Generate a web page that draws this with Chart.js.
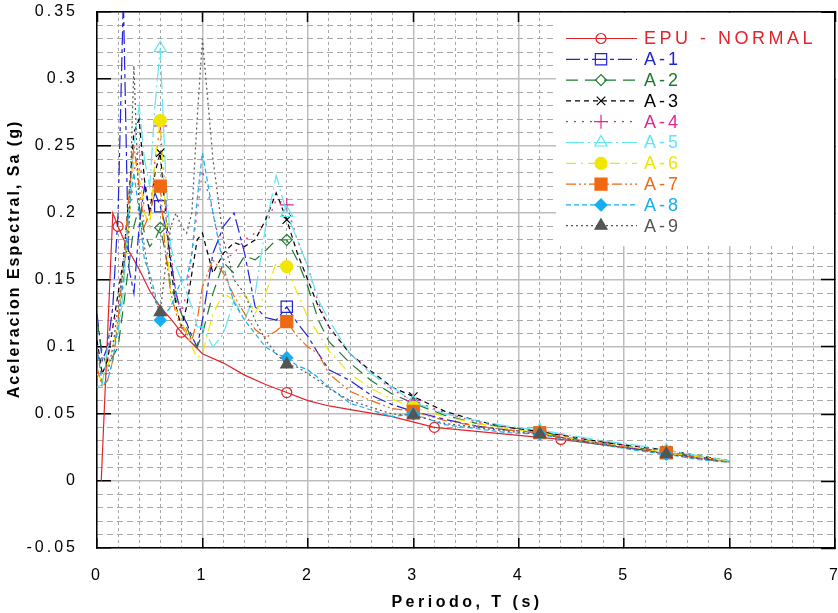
<!DOCTYPE html>
<html lang="es">
<head>
<meta charset="utf-8">
<title>Aceleracion Espectral</title>
<script src="https://cdn.jsdelivr.net/npm/chart.js@4/dist/chart.umd.min.js"></script>
<style>
  html, body { margin: 0; padding: 0; background: #fff; }
  #lienzo { display: block; }
</style>
</head>
<body>
<canvas id="lienzo" width="838" height="613"></canvas>
<script>
// Espectros de respuesta (Sa vs T): espectro EPU normal y registros A-1 ... A-9

// --- EPU - NORMAL ---
const periodosEPU = [0.04, 0.15, 0.2, 0.3, 0.4, 0.5, 0.6, 0.7, 0.8, 0.9, 1.0, 1.2, 1.4, 1.6, 1.8,
  2.0, 2.2, 2.5, 2.8, 3.2, 3.6, 4.0, 4.4, 4.8, 5.4, 6.0];
const saEPU = [0, 0.2, 0.19, 0.172, 0.158, 0.142, 0.13, 0.121, 0.111, 0.103, 0.095, 0.088, 0.079, 0.072, 0.066,
  0.06, 0.056, 0.052, 0.048, 0.04, 0.037, 0.034, 0.031, 0.027, 0.021, 0.015];
const marcasEPU = [0.2, 0.8, 1.8, 3.2, 4.4, 5.4];

// --- registros A-1 ... A-9 (mismos periodos) ---
const periodos = [0, 0.05, 0.1, 0.15, 0.2, 0.25, 0.3, 0.35, 0.4, 0.45, 0.5, 0.55, 0.6, 0.65, 0.7, 0.75,
  0.8, 0.85, 0.9, 0.95, 1.0, 1.1, 1.2, 1.3, 1.4, 1.5, 1.6, 1.7, 1.8, 1.9, 2.0, 2.1, 2.2, 2.4, 2.6, 2.8,
  3.0, 3.3, 3.6, 3.9, 4.2, 4.5, 4.8, 5.1, 5.4, 5.7, 6.0];
const saA1 = [0.125, 0.09, 0.1, 0.13, 0.2, 0.36, 0.16, 0.14, 0.19, 0.22, 0.2, 0.215, 0.205, 0.19, 0.165, 0.14,
  0.125, 0.118, 0.108, 0.1, 0.12, 0.17, 0.19, 0.2, 0.17, 0.13, 0.122, 0.12, 0.13, 0.118, 0.108, 0.095, 0.083, 0.075, 0.064, 0.057,
  0.052, 0.046, 0.041, 0.038, 0.036, 0.031, 0.028, 0.024, 0.021, 0.017, 0.014];
const saA2 = [0.12, 0.095, 0.085, 0.093, 0.1, 0.13, 0.16, 0.19, 0.205, 0.185, 0.175, 0.18, 0.189, 0.17, 0.145, 0.135,
  0.125, 0.115, 0.105, 0.1, 0.11, 0.14, 0.163, 0.155, 0.168, 0.165, 0.172, 0.18, 0.18, 0.165, 0.145, 0.12, 0.104, 0.088, 0.075, 0.065,
  0.058, 0.049, 0.043, 0.04, 0.037, 0.032, 0.029, 0.025, 0.022, 0.018, 0.015];
const saA3 = [0.105, 0.08, 0.09, 0.115, 0.14, 0.165, 0.21, 0.26, 0.27, 0.225, 0.2, 0.23, 0.245, 0.2, 0.16, 0.13,
  0.115, 0.13, 0.155, 0.18, 0.185, 0.155, 0.17, 0.178, 0.175, 0.18, 0.195, 0.215, 0.195, 0.17, 0.15, 0.13, 0.115, 0.095, 0.082, 0.07,
  0.063, 0.052, 0.045, 0.04, 0.037, 0.033, 0.029, 0.026, 0.023, 0.019, 0.015];
const saA4 = [0.1, 0.075, 0.09, 0.115, 0.13, 0.16, 0.19, 0.23, 0.25, 0.2, 0.19, 0.24, 0.265, 0.21, 0.17, 0.14,
  0.125, 0.14, 0.17, 0.2, 0.232, 0.2, 0.165, 0.17, 0.18, 0.185, 0.19, 0.21, 0.206, 0.18, 0.16, 0.133, 0.115, 0.095, 0.081, 0.068,
  0.06, 0.051, 0.044, 0.04, 0.037, 0.033, 0.029, 0.026, 0.022, 0.018, 0.015];
const saA5 = [0.07, 0.072, 0.1, 0.105, 0.11, 0.14, 0.2, 0.25, 0.28, 0.24, 0.22, 0.28, 0.323, 0.23, 0.175, 0.16,
  0.15, 0.14, 0.13, 0.115, 0.115, 0.1, 0.11, 0.135, 0.12, 0.14, 0.19, 0.228, 0.2, 0.18, 0.16, 0.135, 0.12, 0.095, 0.08, 0.07,
  0.059, 0.05, 0.045, 0.041, 0.038, 0.034, 0.03, 0.027, 0.023, 0.019, 0.015];
const saA6 = [0.08, 0.075, 0.085, 0.1, 0.12, 0.15, 0.19, 0.24, 0.23, 0.2, 0.19, 0.24, 0.269, 0.2, 0.135, 0.128,
  0.12, 0.11, 0.1, 0.092, 0.095, 0.125, 0.14, 0.135, 0.14, 0.125, 0.14, 0.163, 0.16, 0.14, 0.122, 0.11, 0.097, 0.08, 0.069, 0.061,
  0.055, 0.048, 0.043, 0.039, 0.036, 0.032, 0.028, 0.025, 0.021, 0.018, 0.015];
const saA7 = [0.085, 0.07, 0.075, 0.09, 0.12, 0.16, 0.21, 0.25, 0.22, 0.19, 0.2, 0.215, 0.22, 0.17, 0.14, 0.125,
  0.115, 0.11, 0.105, 0.12, 0.145, 0.165, 0.155, 0.138, 0.125, 0.113, 0.107, 0.112, 0.119, 0.108, 0.1, 0.095, 0.08, 0.067, 0.06, 0.054,
  0.052, 0.045, 0.041, 0.038, 0.036, 0.031, 0.028, 0.024, 0.021, 0.017, 0.014];
const saA8 = [0.1, 0.072, 0.075, 0.09, 0.115, 0.15, 0.2, 0.23, 0.2, 0.165, 0.155, 0.14, 0.12, 0.125, 0.13, 0.14,
  0.15, 0.15, 0.17, 0.21, 0.245, 0.2, 0.16, 0.133, 0.12, 0.11, 0.1, 0.095, 0.092, 0.086, 0.083, 0.077, 0.07, 0.058, 0.053, 0.048,
  0.05, 0.042, 0.039, 0.036, 0.035, 0.03, 0.027, 0.023, 0.02, 0.016, 0.014];
const saA9 = [0.1, 0.08, 0.08, 0.1, 0.13, 0.16, 0.18, 0.31, 0.2, 0.175, 0.15, 0.135, 0.126, 0.16, 0.19, 0.2,
  0.19, 0.185, 0.2, 0.27, 0.33, 0.24, 0.18, 0.15, 0.14, 0.12, 0.105, 0.095, 0.087, 0.085, 0.08, 0.075, 0.069, 0.06, 0.055, 0.05,
  0.049, 0.043, 0.04, 0.037, 0.035, 0.031, 0.027, 0.024, 0.02, 0.017, 0.014];
const marcasA = [0.6, 1.8, 3.0, 4.2, 5.4];

const nombres = ['EPU - NORMAL', 'A-1', 'A-2', 'A-3', 'A-4', 'A-5', 'A-6', 'A-7', 'A-8', 'A-9'];
const ticksX = [0, 1, 2, 3, 4, 5, 6, 7];
const ticksY = [-0.05, 0, 0.05, 0.1, 0.15, 0.2, 0.25, 0.3, 0.35];

// estilo de cada serie (color, trazo, marcador)
const estilos = [
  { color: '#e3232b', dash: [], punto: 'circle', radio: 5, lleno: false },
  { color: '#2222d6', dash: [14, 4, 4, 4], punto: 'rect', radio: 8, lleno: false },
  { color: '#1d7a30', dash: [12, 7], punto: 'rectRot', radio: 5.5, lleno: false },
  { color: '#000000', dash: [5, 4], punto: 'crossRot', radio: 6, lleno: false },
  { color: '#e8258f', dash: [2, 6], punto: 'cross', radio: 7, lleno: false },
  { color: '#5fe6f2', dash: [18, 4, 2, 4], punto: 'triangle', radio: 7, lleno: false },
  { color: '#f0e600', dash: [10, 5, 2, 5], punto: 'circle', radio: 6, lleno: true },
  { color: '#f06812', dash: [10, 3, 2, 3, 2, 3], punto: 'rect', radio: 8.5, lleno: true },
  { color: '#16aef0', dash: [5, 3], punto: 'rectRot', radio: 6, lleno: true },
  { color: '#555555', dash: [2, 3], punto: 'triangle', radio: 7, lleno: true },
];

const FUENTE = '"Liberation Sans", Arial, sans-serif';

function puntos(xs, ys) {
  return xs.map((t, i) => ({ x: t, y: ys[i] }));
}

function radioMarca(marcas, radio) {
  return (ctx) => (ctx.raw && marcas.some((m) => Math.abs(m - ctx.raw.x) < 1e-9) ? radio : 0);
}

const valores = [saA1, saA2, saA3, saA4, saA5, saA6, saA7, saA8, saA9];
const conjuntos = [puntos(periodosEPU, saEPU)].concat(valores.map((v) => puntos(periodos, v)));

const datasets = conjuntos.map((data, i) => {
  const e = estilos[i];
  return {
    label: nombres[i],
    data,
    order: nombres.length - i, // A-9 queda encima
    borderColor: e.color,
    borderWidth: 1.2,
    borderDash: e.dash,
    tension: 0,
    pointStyle: e.punto,
    pointRadius: radioMarca(i === 0 ? marcasEPU : marcasA, e.radio),
    pointHoverRadius: 0,
    pointBorderColor: e.color,
    pointBorderWidth: 1.2,
    pointBackgroundColor: e.lleno ? e.color : 'rgba(255,255,255,0)',
  };
});

// rejilla menor: cada 0.2 s y cada 0.01 g (sin las lineas mayores)
const menoresX = [];
for (let k = 1; k < 35; k++) if (k % 5 !== 0) menoresX.push(Math.round(k * 2) / 10);
const menoresY = [];
for (let k = -4; k < 35; k++) if (k % 5 !== 0) menoresY.push(Math.round(k) / 100);

const fijarTicks = (lista) => (scale) => { scale.ticks = lista.map((v) => ({ value: v })); };

// tamaño fijo de cada eje, sin relleno automatico (el area la fija layout.padding)
const medida = (lado, valor) => (s) => {
  s[lado] = valor;
  s.paddingTop = 0; s.paddingBottom = 0; s.paddingLeft = 0; s.paddingRight = 0;
};

function etiquetaY(v) {
  return String(Number(v.toFixed(2)));
}

// leyenda con linea + marcador, titulos de ejes y espaciado de letras
const decoracion = {
  id: 'decoracion',
  beforeDraw(chart) {
    chart.ctx.letterSpacing = '3px';
  },
  beforeDatasetsDraw(chart) {
    chart.ctx.letterSpacing = '0px';
  },
  afterDatasetsDraw(chart) {
    const ctx = chart.ctx;
    const area = chart.chartArea;
    ctx.save();
    ctx.fillStyle = '#fff';
    ctx.fillRect(556, area.top + 1, area.right - 557, 245 - area.top);

    chart.data.datasets.forEach((ds, i) => {
      const y = 38.5 + i * 20.8;
      ctx.save();
      ctx.strokeStyle = ds.borderColor;
      ctx.lineWidth = ds.borderWidth;
      ctx.setLineDash(ds.borderDash);
      ctx.beginPath();
      ctx.moveTo(566, y);
      ctx.lineTo(637, y);
      ctx.stroke();
      ctx.setLineDash([]);
      ctx.fillStyle = ds.pointBackgroundColor;
      ctx.strokeStyle = ds.pointBorderColor;
      ctx.lineWidth = ds.pointBorderWidth;
      const r = estilos[i].radio;
      Chart.helpers.drawPoint(ctx, { pointStyle: ds.pointStyle, radius: r, rotation: 0, borderWidth: ds.pointBorderWidth }, 601, y);
      ctx.restore();

      ctx.fillStyle = ds.borderColor;
      ctx.font = '18px ' + FUENTE;
      ctx.textAlign = 'left';
      ctx.textBaseline = 'middle';
      ctx.letterSpacing = i === 0 ? '3.5px' : '3px';
      ctx.fillText(ds.label, 644, y + 1);
    });

    ctx.fillStyle = '#000';
    ctx.font = 'bold 16px ' + FUENTE;
    ctx.textAlign = 'center';
    ctx.textBaseline = 'middle';
    ctx.letterSpacing = '3.5px';
    ctx.fillText('Periodo, T (s)', 467, 603);
    ctx.translate(15, 259);
    ctx.rotate(-Math.PI / 2);
    ctx.letterSpacing = '2px';
    ctx.fillText('Aceleracion Espectral, Sa (g)', 0, 0);
    ctx.restore();
  },
};

const gris = '#bdbdbd';
const grisMenor = '#a8a8a8';

new Chart(document.getElementById('lienzo'), {
  type: 'line',
  data: { datasets },
  plugins: [decoracion],
  options: {
    responsive: false,
    animation: false,
    events: [],
    layout: { padding: { top: 12, right: 3, left: 0, bottom: 0 } },
    plugins: { legend: { display: false }, tooltip: { enabled: false } },
    scales: {
      x: {
        type: 'linear', position: 'bottom', min: 0, max: 7,
        afterBuildTicks: fijarTicks(ticksX),
        afterFit: medida('height', 65),
        ticks: { color: '#000', padding: 28, font: { family: FUENTE, size: 16 } },
        grid: { color: gris, lineWidth: 1.5, tickLength: -10, tickColor: '#000', tickWidth: 1.5 },
        border: { color: '#000', width: 1.5 },
      },
      xMenor: {
        type: 'linear', position: 'bottom', min: 0, max: 7,
        afterBuildTicks: fijarTicks(menoresX),
        afterFit: medida('height', 0),
        ticks: { display: false },
        grid: { color: grisMenor, lineWidth: 1, drawTicks: false },
        border: { display: false, dash: [3, 3] },
      },
      xSup: {
        type: 'linear', position: 'top', min: 0, max: 7,
        afterBuildTicks: fijarTicks(ticksX),
        afterFit: medida('height', 0),
        ticks: { display: false },
        grid: { drawOnChartArea: false, tickLength: -10, tickColor: '#000', tickWidth: 1.5 },
        border: { color: '#000', width: 1.5 },
      },
      y: {
        type: 'linear', position: 'left', min: -0.05, max: 0.35,
        afterBuildTicks: fijarTicks(ticksY),
        afterFit: medida('width', 97),
        ticks: { color: '#000', padding: 33, font: { family: FUENTE, size: 16 }, callback: etiquetaY },
        grid: { color: gris, lineWidth: 1.5, tickLength: -14, tickColor: '#000', tickWidth: 1.5 },
        border: { color: '#000', width: 1.5 },
      },
      yMenor: {
        type: 'linear', position: 'left', min: -0.05, max: 0.35,
        afterBuildTicks: fijarTicks(menoresY),
        afterFit: medida('width', 0),
        ticks: { display: false },
        grid: { color: grisMenor, lineWidth: 1, drawTicks: false },
        border: { display: false, dash: [6, 4] },
      },
      yDer: {
        type: 'linear', position: 'right', min: -0.05, max: 0.35,
        afterBuildTicks: fijarTicks(ticksY),
        afterFit: medida('width', 0),
        ticks: { display: false },
        grid: { drawOnChartArea: false, tickLength: -14, tickColor: '#000', tickWidth: 1.5 },
        border: { color: '#000', width: 1.5 },
      },
    },
  },
});
</script>
</body>
</html>
